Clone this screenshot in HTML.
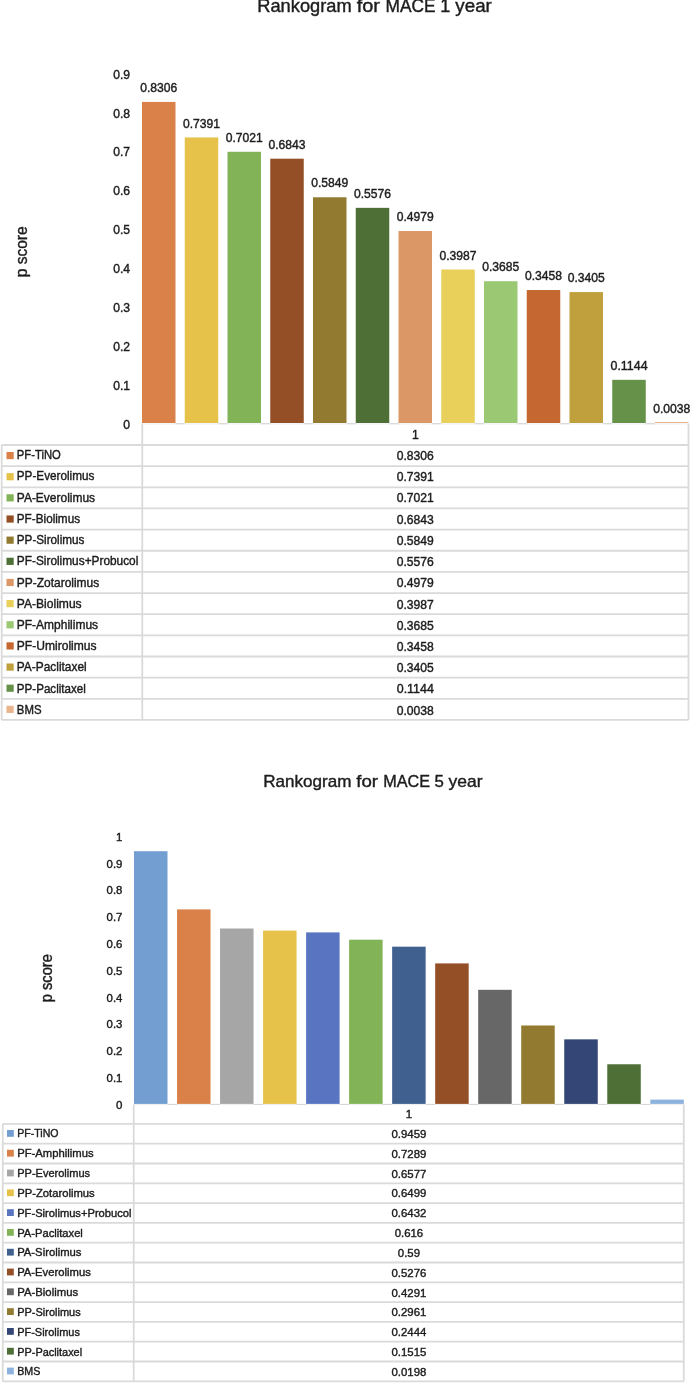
<!DOCTYPE html>
<html><head><meta charset="utf-8"><title>Rankogram for MACE</title>
<style>
html,body{margin:0;padding:0;background:#fff;}
svg{display:block;font-family:"Liberation Sans", sans-serif;fill:#1c1c1c;}
svg text{stroke:#1c1c1c;stroke-width:0.4px;}
</style></head>
<body>
<svg width="690" height="1383" viewBox="0 0 690 1383">
<rect width="690" height="1383" fill="#fff"/>
<rect x="142.00" y="101.93" width="33.50" height="321.07" fill="#D98148"/>
<text x="140.22" y="92.03" font-size="12.2" textLength="37.07" lengthAdjust="spacingAndGlyphs">0.8306</text>
<rect x="184.75" y="137.43" width="33.50" height="285.57" fill="#E6C24A"/>
<text x="182.97" y="127.53" font-size="12.2" textLength="37.07" lengthAdjust="spacingAndGlyphs">0.7391</text>
<rect x="227.50" y="151.79" width="33.50" height="271.21" fill="#82B457"/>
<text x="225.72" y="141.89" font-size="12.2" textLength="37.07" lengthAdjust="spacingAndGlyphs">0.7021</text>
<rect x="270.25" y="158.69" width="33.50" height="264.31" fill="#944F26"/>
<text x="268.47" y="148.79" font-size="12.2" textLength="37.07" lengthAdjust="spacingAndGlyphs">0.6843</text>
<rect x="313.00" y="197.26" width="33.50" height="225.74" fill="#927B30"/>
<text x="311.22" y="187.36" font-size="12.2" textLength="37.07" lengthAdjust="spacingAndGlyphs">0.5849</text>
<rect x="355.75" y="207.85" width="33.50" height="215.15" fill="#4E6F36"/>
<text x="353.97" y="197.95" font-size="12.2" textLength="37.07" lengthAdjust="spacingAndGlyphs">0.5576</text>
<rect x="398.50" y="231.01" width="33.50" height="191.99" fill="#DC9766"/>
<text x="396.72" y="221.11" font-size="12.2" textLength="37.07" lengthAdjust="spacingAndGlyphs">0.4979</text>
<rect x="441.25" y="269.50" width="33.50" height="153.50" fill="#E8D05A"/>
<text x="439.47" y="259.60" font-size="12.2" textLength="37.07" lengthAdjust="spacingAndGlyphs">0.3987</text>
<rect x="484.00" y="281.22" width="33.50" height="141.78" fill="#9AC873"/>
<text x="482.22" y="271.32" font-size="12.2" textLength="37.07" lengthAdjust="spacingAndGlyphs">0.3685</text>
<rect x="526.75" y="290.03" width="33.50" height="132.97" fill="#C46730"/>
<text x="524.97" y="280.13" font-size="12.2" textLength="37.07" lengthAdjust="spacingAndGlyphs">0.3458</text>
<rect x="569.50" y="292.09" width="33.50" height="130.91" fill="#C0A03C"/>
<text x="567.72" y="282.19" font-size="12.2" textLength="37.07" lengthAdjust="spacingAndGlyphs">0.3405</text>
<rect x="612.25" y="379.81" width="33.50" height="43.19" fill="#669148"/>
<text x="610.47" y="369.91" font-size="12.2" textLength="37.07" lengthAdjust="spacingAndGlyphs">0.1144</text>
<rect x="655.00" y="422.00" width="33.50" height="1.00" fill="#E9B48C"/>
<text x="653.22" y="412.83" font-size="12.2" textLength="37.07" lengthAdjust="spacingAndGlyphs">0.0038</text>
<text x="123.26" y="428.80" font-size="12.2">0</text>
<text x="113.16" y="389.89" font-size="12.2" textLength="16.84" lengthAdjust="spacingAndGlyphs">0.1</text>
<text x="113.16" y="350.98" font-size="12.2" textLength="16.84" lengthAdjust="spacingAndGlyphs">0.2</text>
<text x="113.16" y="312.07" font-size="12.2" textLength="16.84" lengthAdjust="spacingAndGlyphs">0.3</text>
<text x="113.16" y="273.16" font-size="12.2" textLength="16.84" lengthAdjust="spacingAndGlyphs">0.4</text>
<text x="113.16" y="234.25" font-size="12.2" textLength="16.84" lengthAdjust="spacingAndGlyphs">0.5</text>
<text x="113.16" y="195.34" font-size="12.2" textLength="16.84" lengthAdjust="spacingAndGlyphs">0.6</text>
<text x="113.16" y="156.43" font-size="12.2" textLength="16.84" lengthAdjust="spacingAndGlyphs">0.7</text>
<text x="113.16" y="117.52" font-size="12.2" textLength="16.84" lengthAdjust="spacingAndGlyphs">0.8</text>
<text x="113.16" y="78.61" font-size="12.2" textLength="16.84" lengthAdjust="spacingAndGlyphs">0.9</text>
<text transform="translate(26.9,251.8) rotate(-90)" x="-25.50" y="0" font-size="16.6" textLength="51" lengthAdjust="spacingAndGlyphs">p score</text>
<text y="11.7" font-size="18.2" xml:space="preserve"><tspan x="257.30" textLength="99.37" lengthAdjust="spacingAndGlyphs">Rankogram </tspan><tspan x="356.67" textLength="28.81" lengthAdjust="spacingAndGlyphs">for </tspan><tspan x="385.47" textLength="54.89" lengthAdjust="spacingAndGlyphs">MACE </tspan><tspan x="440.37" textLength="15.01" lengthAdjust="spacingAndGlyphs">1 </tspan><tspan x="455.38" textLength="36.42" lengthAdjust="spacingAndGlyphs">year</tspan></text>
<path d="M142.3 423.9H688.5" fill="none" stroke="#eceef1" stroke-width="1"/>
<path d="M175.50 423.7H184.75 M218.25 423.7H227.50 M261.00 423.7H270.25 M303.75 423.7H313.00 M346.50 423.7H355.75 M389.25 423.7H398.50 M432.00 423.7H441.25 M474.75 423.7H484.00 M517.50 423.7H526.75 M560.25 423.7H569.50 M603.00 423.7H612.25 M645.75 423.7H655.00" fill="none" stroke="#d4d4d4" stroke-width="1"/>
<path d="M142.3 423.7V719.95 M688.5 423.7V719.95 M1.7 445.0V719.95 M1.7 445.00H688.5 M1.7 466.15H688.5 M1.7 487.30H688.5 M1.7 508.45H688.5 M1.7 529.60H688.5 M1.7 550.75H688.5 M1.7 571.90H688.5 M1.7 593.05H688.5 M1.7 614.20H688.5 M1.7 635.35H688.5 M1.7 656.50H688.5 M1.7 677.65H688.5 M1.7 698.80H688.5 M1.7 719.95H688.5" fill="none" stroke="#dadada" stroke-width="1.8"/>
<text x="411.88" y="438.85" font-size="12.2">1</text>
<rect x="6.5" y="451.97" width="7.2" height="7.2" fill="#D98148"/>
<text x="16.80" y="459.18" font-size="12.2" textLength="43.97" lengthAdjust="spacingAndGlyphs">PF-TiNO</text>
<text x="396.72" y="459.98" font-size="12.2" textLength="37.07" lengthAdjust="spacingAndGlyphs">0.8306</text>
<rect x="6.5" y="473.12" width="7.2" height="7.2" fill="#E6C24A"/>
<text x="16.80" y="480.40" font-size="12.2" textLength="77.50" lengthAdjust="spacingAndGlyphs">PP-Everolimus</text>
<text x="396.72" y="481.20" font-size="12.2" textLength="37.07" lengthAdjust="spacingAndGlyphs">0.7391</text>
<rect x="6.5" y="494.27" width="7.2" height="7.2" fill="#82B457"/>
<text x="16.80" y="501.62" font-size="12.2" textLength="78.32" lengthAdjust="spacingAndGlyphs">PA-Everolimus</text>
<text x="396.72" y="502.42" font-size="12.2" textLength="37.07" lengthAdjust="spacingAndGlyphs">0.7021</text>
<rect x="6.5" y="515.42" width="7.2" height="7.2" fill="#944F26"/>
<text x="16.80" y="522.83" font-size="12.2" textLength="63.24" lengthAdjust="spacingAndGlyphs">PF-Biolimus</text>
<text x="396.72" y="523.63" font-size="12.2" textLength="37.07" lengthAdjust="spacingAndGlyphs">0.6843</text>
<rect x="6.5" y="536.57" width="7.2" height="7.2" fill="#927B30"/>
<text x="16.80" y="544.05" font-size="12.2" textLength="67.52" lengthAdjust="spacingAndGlyphs">PP-Sirolimus</text>
<text x="396.72" y="544.85" font-size="12.2" textLength="37.07" lengthAdjust="spacingAndGlyphs">0.5849</text>
<rect x="6.5" y="557.73" width="7.2" height="7.2" fill="#4E6F36"/>
<text x="16.80" y="565.28" font-size="12.2" textLength="121.55" lengthAdjust="spacingAndGlyphs">PF-Sirolimus+Probucol</text>
<text x="396.72" y="566.08" font-size="12.2" textLength="37.07" lengthAdjust="spacingAndGlyphs">0.5576</text>
<rect x="6.5" y="578.88" width="7.2" height="7.2" fill="#DC9766"/>
<text x="16.80" y="586.50" font-size="12.2" textLength="82.43" lengthAdjust="spacingAndGlyphs">PP-Zotarolimus</text>
<text x="396.72" y="587.29" font-size="12.2" textLength="37.07" lengthAdjust="spacingAndGlyphs">0.4979</text>
<rect x="6.5" y="600.02" width="7.2" height="7.2" fill="#E8D05A"/>
<text x="16.80" y="607.72" font-size="12.2" textLength="64.84" lengthAdjust="spacingAndGlyphs">PA-Biolimus</text>
<text x="396.72" y="608.51" font-size="12.2" textLength="37.07" lengthAdjust="spacingAndGlyphs">0.3987</text>
<rect x="6.5" y="621.17" width="7.2" height="7.2" fill="#9AC873"/>
<text x="16.80" y="628.93" font-size="12.2" textLength="81.29" lengthAdjust="spacingAndGlyphs">PF-Amphilimus</text>
<text x="396.72" y="629.73" font-size="12.2" textLength="37.07" lengthAdjust="spacingAndGlyphs">0.3685</text>
<rect x="6.5" y="642.32" width="7.2" height="7.2" fill="#C46730"/>
<text x="16.80" y="650.15" font-size="12.2" textLength="79.81" lengthAdjust="spacingAndGlyphs">PF-Umirolimus</text>
<text x="396.72" y="650.95" font-size="12.2" textLength="37.07" lengthAdjust="spacingAndGlyphs">0.3458</text>
<rect x="6.5" y="663.48" width="7.2" height="7.2" fill="#C0A03C"/>
<text x="16.80" y="671.38" font-size="12.2" textLength="69.86" lengthAdjust="spacingAndGlyphs">PA-Paclitaxel</text>
<text x="396.72" y="672.17" font-size="12.2" textLength="37.07" lengthAdjust="spacingAndGlyphs">0.3405</text>
<rect x="6.5" y="684.62" width="7.2" height="7.2" fill="#669148"/>
<text x="16.80" y="692.60" font-size="12.2" textLength="69.04" lengthAdjust="spacingAndGlyphs">PP-Paclitaxel</text>
<text x="396.72" y="693.39" font-size="12.2" textLength="37.07" lengthAdjust="spacingAndGlyphs">0.1144</text>
<rect x="6.5" y="705.77" width="7.2" height="7.2" fill="#E9B48C"/>
<text x="16.80" y="713.82" font-size="12.2" textLength="24.71" lengthAdjust="spacingAndGlyphs">BMS</text>
<text x="396.72" y="714.62" font-size="12.2" textLength="37.07" lengthAdjust="spacingAndGlyphs">0.0038</text>
<rect x="134.00" y="851.21" width="33.50" height="252.69" fill="#729ED2"/>
<rect x="177.03" y="909.41" width="33.50" height="194.49" fill="#D98148"/>
<rect x="220.05" y="928.50" width="33.50" height="175.40" fill="#A6A6A6"/>
<rect x="263.07" y="930.60" width="33.50" height="173.30" fill="#E6C24A"/>
<rect x="306.10" y="932.39" width="33.50" height="171.51" fill="#5975C2"/>
<rect x="349.12" y="939.69" width="33.50" height="164.21" fill="#82B457"/>
<rect x="392.15" y="946.66" width="33.50" height="157.24" fill="#40618F"/>
<rect x="435.18" y="963.40" width="33.50" height="140.50" fill="#944F26"/>
<rect x="478.20" y="989.82" width="33.50" height="114.08" fill="#676767"/>
<rect x="521.22" y="1025.49" width="33.50" height="78.41" fill="#927B30"/>
<rect x="564.25" y="1039.35" width="33.50" height="64.55" fill="#344675"/>
<rect x="607.27" y="1064.27" width="33.50" height="39.63" fill="#4E6F36"/>
<rect x="650.30" y="1099.59" width="33.50" height="4.31" fill="#8DB2DE"/>
<text x="116.06" y="1108.90" font-size="11.5">0</text>
<text x="106.58" y="1082.08" font-size="11.5" textLength="15.82" lengthAdjust="spacingAndGlyphs">0.1</text>
<text x="106.58" y="1055.26" font-size="11.5" textLength="15.82" lengthAdjust="spacingAndGlyphs">0.2</text>
<text x="106.58" y="1028.44" font-size="11.5" textLength="15.82" lengthAdjust="spacingAndGlyphs">0.3</text>
<text x="106.58" y="1001.62" font-size="11.5" textLength="15.82" lengthAdjust="spacingAndGlyphs">0.4</text>
<text x="106.58" y="974.80" font-size="11.5" textLength="15.82" lengthAdjust="spacingAndGlyphs">0.5</text>
<text x="106.58" y="947.98" font-size="11.5" textLength="15.82" lengthAdjust="spacingAndGlyphs">0.6</text>
<text x="106.58" y="921.16" font-size="11.5" textLength="15.82" lengthAdjust="spacingAndGlyphs">0.7</text>
<text x="106.58" y="894.34" font-size="11.5" textLength="15.82" lengthAdjust="spacingAndGlyphs">0.8</text>
<text x="106.58" y="867.52" font-size="11.5" textLength="15.82" lengthAdjust="spacingAndGlyphs">0.9</text>
<text x="116.06" y="840.70" font-size="11.5">1</text>
<text transform="translate(51.6,978.2) rotate(-90)" x="-24.00" y="0" font-size="15.6" textLength="48" lengthAdjust="spacingAndGlyphs">p score</text>
<text y="787.3" font-size="17" xml:space="preserve"><tspan x="263.30" textLength="92.92" lengthAdjust="spacingAndGlyphs">Rankogram </tspan><tspan x="356.22" textLength="26.94" lengthAdjust="spacingAndGlyphs">for </tspan><tspan x="383.17" textLength="51.34" lengthAdjust="spacingAndGlyphs">MACE </tspan><tspan x="434.50" textLength="14.04" lengthAdjust="spacingAndGlyphs">5 </tspan><tspan x="448.54" textLength="34.06" lengthAdjust="spacingAndGlyphs">year</tspan></text>
<path d="M133.7 1104.6000000000001H683.8" fill="none" stroke="#eceef1" stroke-width="1"/>
<path d="M167.50 1104.4H177.03 M210.53 1104.4H220.05 M253.55 1104.4H263.07 M296.57 1104.4H306.10 M339.60 1104.4H349.12 M382.62 1104.4H392.15 M425.65 1104.4H435.18 M468.68 1104.4H478.20 M511.70 1104.4H521.22 M554.72 1104.4H564.25 M597.75 1104.4H607.27 M640.77 1104.4H650.30" fill="none" stroke="#d4d4d4" stroke-width="1"/>
<path d="M133.7 1104.4V1381.30 M683.8 1104.4V1381.30 M2.75 1123.9V1381.30 M2.75 1123.90H683.8 M2.75 1143.70H683.8 M2.75 1163.50H683.8 M2.75 1183.30H683.8 M2.75 1203.10H683.8 M2.75 1222.90H683.8 M2.75 1242.70H683.8 M2.75 1262.50H683.8 M2.75 1282.30H683.8 M2.75 1302.10H683.8 M2.75 1321.90H683.8 M2.75 1341.70H683.8 M2.75 1361.50H683.8 M2.75 1381.30H683.8" fill="none" stroke="#dadada" stroke-width="1.8"/>
<text x="405.73" y="1117.95" font-size="11.5">1</text>
<rect x="7.0" y="1130.00" width="6.8" height="6.8" fill="#729ED2"/>
<text x="17.20" y="1137.40" font-size="11.5" textLength="41.33" lengthAdjust="spacingAndGlyphs">PF-TiNO</text>
<text x="391.48" y="1137.90" font-size="11.5" textLength="34.84" lengthAdjust="spacingAndGlyphs">0.9459</text>
<rect x="7.0" y="1149.80" width="6.8" height="6.8" fill="#D98148"/>
<text x="17.20" y="1157.24" font-size="11.5" textLength="76.40" lengthAdjust="spacingAndGlyphs">PF-Amphilimus</text>
<text x="391.48" y="1157.74" font-size="11.5" textLength="34.84" lengthAdjust="spacingAndGlyphs">0.7289</text>
<rect x="7.0" y="1169.60" width="6.8" height="6.8" fill="#A6A6A6"/>
<text x="17.20" y="1177.08" font-size="11.5" textLength="72.84" lengthAdjust="spacingAndGlyphs">PP-Everolimus</text>
<text x="391.48" y="1177.58" font-size="11.5" textLength="34.84" lengthAdjust="spacingAndGlyphs">0.6577</text>
<rect x="7.0" y="1189.40" width="6.8" height="6.8" fill="#E6C24A"/>
<text x="17.20" y="1196.92" font-size="11.5" textLength="77.47" lengthAdjust="spacingAndGlyphs">PP-Zotarolimus</text>
<text x="391.48" y="1197.42" font-size="11.5" textLength="34.84" lengthAdjust="spacingAndGlyphs">0.6499</text>
<rect x="7.0" y="1209.20" width="6.8" height="6.8" fill="#5975C2"/>
<text x="17.20" y="1216.76" font-size="11.5" textLength="114.24" lengthAdjust="spacingAndGlyphs">PF-Sirolimus+Probucol</text>
<text x="391.48" y="1217.26" font-size="11.5" textLength="34.84" lengthAdjust="spacingAndGlyphs">0.6432</text>
<rect x="7.0" y="1229.00" width="6.8" height="6.8" fill="#82B457"/>
<text x="17.20" y="1236.60" font-size="11.5" textLength="65.66" lengthAdjust="spacingAndGlyphs">PA-Paclitaxel</text>
<text x="394.65" y="1237.10" font-size="11.5" textLength="28.50" lengthAdjust="spacingAndGlyphs">0.616</text>
<rect x="7.0" y="1248.80" width="6.8" height="6.8" fill="#40618F"/>
<text x="17.20" y="1256.44" font-size="11.5" textLength="64.24" lengthAdjust="spacingAndGlyphs">PA-Sirolimus</text>
<text x="397.82" y="1256.94" font-size="11.5" textLength="22.16" lengthAdjust="spacingAndGlyphs">0.59</text>
<rect x="7.0" y="1268.60" width="6.8" height="6.8" fill="#944F26"/>
<text x="17.20" y="1276.28" font-size="11.5" textLength="73.61" lengthAdjust="spacingAndGlyphs">PA-Everolimus</text>
<text x="391.48" y="1276.78" font-size="11.5" textLength="34.84" lengthAdjust="spacingAndGlyphs">0.5276</text>
<rect x="7.0" y="1288.40" width="6.8" height="6.8" fill="#676767"/>
<text x="17.20" y="1296.12" font-size="11.5" textLength="60.94" lengthAdjust="spacingAndGlyphs">PA-Biolimus</text>
<text x="391.48" y="1296.62" font-size="11.5" textLength="34.84" lengthAdjust="spacingAndGlyphs">0.4291</text>
<rect x="7.0" y="1308.20" width="6.8" height="6.8" fill="#927B30"/>
<text x="17.20" y="1315.96" font-size="11.5" textLength="63.46" lengthAdjust="spacingAndGlyphs">PP-Sirolimus</text>
<text x="391.48" y="1316.46" font-size="11.5" textLength="34.84" lengthAdjust="spacingAndGlyphs">0.2961</text>
<rect x="7.0" y="1328.00" width="6.8" height="6.8" fill="#344675"/>
<text x="17.20" y="1335.80" font-size="11.5" textLength="62.74" lengthAdjust="spacingAndGlyphs">PF-Sirolimus</text>
<text x="391.48" y="1336.30" font-size="11.5" textLength="34.84" lengthAdjust="spacingAndGlyphs">0.2444</text>
<rect x="7.0" y="1347.80" width="6.8" height="6.8" fill="#4E6F36"/>
<text x="17.20" y="1355.64" font-size="11.5" textLength="64.89" lengthAdjust="spacingAndGlyphs">PP-Paclitaxel</text>
<text x="391.48" y="1356.14" font-size="11.5" textLength="34.84" lengthAdjust="spacingAndGlyphs">0.1515</text>
<rect x="7.0" y="1367.60" width="6.8" height="6.8" fill="#8DB2DE"/>
<text x="17.20" y="1375.48" font-size="11.5" textLength="23.23" lengthAdjust="spacingAndGlyphs">BMS</text>
<text x="391.48" y="1375.98" font-size="11.5" textLength="34.84" lengthAdjust="spacingAndGlyphs">0.0198</text>
</svg>
</body></html>
